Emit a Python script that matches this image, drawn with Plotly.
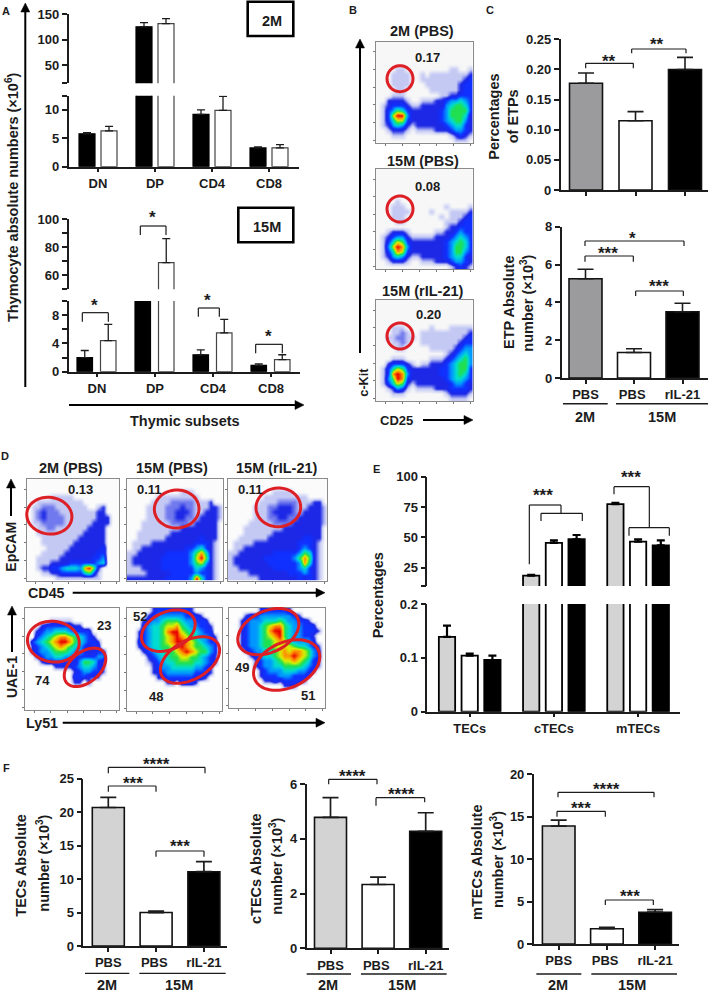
import math
import plotly.graph_objects as go

W, H = 709, 996
FONT = "Liberation Sans"
INK = "#1c1c1c"
GREY_C = "#9b9b9d"
GREY_L = "#d3d3d3"
RED = "#dd1f26"

# ---------- Panel A ----------
A_CATS = ["DN", "DP", "CD4", "CD8"]
A2_BLACK = [5.8, 125, 9.2, 3.3]
A2_BLACK_TOP = [6.0, 133, 10.0, 3.5]
A2_WHITE = [6.3, 131, 9.9, 3.3]
A2_WHITE_TOP = [7.1, 141, 12.4, 3.9]
A15_BLACK = [2.0, 40, 2.4, 0.9]
A15_BLACK_TOP = [3.0, 40, 3.1, 1.1]
A15_WHITE = [4.4, 69, 5.5, 1.7]
A15_WHITE_TOP = [6.7, 86, 7.4, 2.4]

# ---------- Panel C ----------
C_CATS = ["PBS", "PBS ", "rIL-21"]
C_PCT = [0.177, 0.115, 0.200]
C_PCT_TOP = [0.194, 0.130, 0.220]
C_ABS = [5.25, 1.35, 3.5]
C_ABS_TOP = [5.75, 1.55, 3.95]

# ---------- Panel E ----------
E_CATS = ["TECs", "cTECs", "mTECs"]
E_GREY = [0.139, 18.5, 77.5]
E_GREY_TOP = [0.160, 19.2, 78.5]
E_WHITE = [0.104, 45.5, 46.5]
E_WHITE_TOP = [0.108, 47.5, 48.5]
E_BLACK = [0.096, 48.5, 43.5]
E_BLACK_TOP = [0.104, 52.0, 47.5]

# ---------- Panel F ----------
F1 = [20.7, 5.0, 11.1]
F1_TOP = [22.2, 5.2, 12.6]
F2 = [4.78, 2.33, 4.27]
F2_TOP = [5.5, 2.6, 4.95]
F3 = [13.9, 1.8, 3.75]
F3_TOP = [14.6, 1.95, 4.05]

# ---------- Flow plots: density level 0-9 ('a' = 1.5) ----------
B1 = ["00000000000000000000", "00000000000000000000", "00000000000000000000", "00000000000000000000",
      "00000000000000000000", "00001100000000011001", "00011110010111111112", "00011110011111111123",
      "00011110001111111233", "00001100000111111233", "00011100000001122333", "00222210011122344543",
      "01233321122222456653", "01346532222223466663", "01379942222223466652", "01357732222223456642",
      "01245421222222345532", "00122210111122234432", "00011100000000012321", "00000000000000001110"]
B2 = ["00000000000000000000", "00000000000000000000", "00000000000000000000", "00000000000000000000",
      "00000000000000000000", "00000000000000000000", "00001000000000000000", "00011100000000100001",
      "00011110000100011112", "00011100000001011123", "00001100000000111233", "00000000000000122333",
      "00122210000011223433", "01234421111122234543", "01357632222222345653", "01479842222222346653",
      "01358732222222346643", "01245421122222345532", "00122210011122234432", "00000000000000012321"]
B3 = ["00000000000000000000", "00000000000000000000", "00000000000000000000", "00000000000000000000",
      "00000000000000000000", "00011100000100011111", "00011a10011111111112", "0011aa11011111111123",
      "00011a10011111111233", "00001100000111112344", "00000000000000123454", "00011100000111234564",
      "00233321011222345664", "01357632222223345663", "01389842222223345653", "01469832222222345543",
      "01357621222222234432", "00124310111122233332", "00011100000000122221", "00000000000000011110"]
D1 = ["00000000000000000000", "00000000000000000000", "00000000000000000000", "00000111110000000000",
      "00111111111100000000", "011aaa11111110012000", "01a2aaa1111111122000", "01a2aaaa111111122200",
      "011aaaaa111111222200", "0011aa11111112222000", "00111111111122222000", "00011111111222222000",
      "00011111112222222000", "00001111122222223000", "00011111222222233000", "00111112222222334000",
      "00111222233333345000", "00122334555489620000", "00011223333356310000", "00000011111111110000"]
D2 = ["00000000000000000000", "00000000000000000000", "00000000000111000000", "00000011111111100000",
      "000001111aaaaa111200", "00001111aaa2aa111221", "00001111aa222a112221", "00001111aa22aa122221",
      "000111111aaaa1222220", "00011111111222222220", "00111111122222222220", "00111111222222232220",
      "01111222222222333210", "01122222222233453210", "11222222333334685210", "12222223333334796210",
      "12222223333334674210", "11122223333333543210", "11112222233333433210", "22222222333334953210"]
D3 = ["00000000000000000000", "00000000000000000000", "00000000011110000000", "00000001111111110000",
      "0000001111aaaa111220", "00000111aa222a112221", "00000111a2222a122221", "00000111aa22aa222221",
      "000011111aaaa2222221", "00011111111222222220", "00011111122222222220", "00111111222222233220",
      "01111222222222333210", "01122222222222343210", "11222222233333465210", "12222223333334686210",
      "12222222333333485210", "11222222233333453210", "11112222222233343210", "11111122222222323210"]
D4 = ["00000000000000000000", "00000000000000000000", "00000111110000000000", "00023333332200000000",
      "00234455543333000000", "00345678876543200000", "03456789986543320000", "02345678765432330000",
      "02344566654432233000", "00234455443333344000", "00023333332466532000", "00000022223455432000",
      "00000000002344332000", "00000000003332220000", "00000000002202000000", "00000000000000000000",
      "00000000000000000000", "00000000000000000000", "00000000000000000000", "00000000000000000000"]
D5 = ["00000233333332000000", "00002344444433320000", "00023445666544333000", "00034556778654433200",
      "00234556899765543300", "00234556789876544320", "00334556789987654330", "00234556678987665430",
      "00023455667898766430", "00002345566776654320", "00001234556666554320", "00000234455555443200",
      "00000223444444333200", "00000022333333232000", "00000000220333200000", "00000000000000000000",
      "00000000000000000000", "00000000000000000000", "00000000000000000000", "00000000000000000000"]
D6 = ["00000023333320000000", "00023344444443200000", "00234445556544332000", "00234456788654433300",
      "00234456899654433320", "00234456789654433200", "00234456678754444300", "00234456677776554320",
      "00023445567878876430", "00002345567889876430", "00000234456778765320", "00000234455666654320",
      "00000023444555443200", "00000023334443332000", "00000002232333320000", "00000000000222000000",
      "00000000000000000000", "00000000000000000000", "00000000000000000000", "00000000000000000000"]

LEVELS = ["#c4c9f4", "#1c28e6", "#1030ff", "#0098ff", "#00dcd0", "#20e050", "#d8f000", "#ff9000", "#e80000"]

fig = go.Figure()
axis_no = [1]
layout_axes = {}
shapes = []
annos = []


def new_axes(l, r, t, b, xr, yr, xa=None, ya=None):
    axis_no[0] += 1
    n = axis_no[0]
    xd = dict(domain=[l / W, r / W], anchor=f"y{n}", range=xr, showgrid=False, zeroline=False,
              showline=False, ticks="", showticklabels=False, fixedrange=True)
    yd = dict(domain=[1 - b / H, 1 - t / H], anchor=f"x{n}", range=yr, showgrid=False, zeroline=False,
              showline=False, ticks="", showticklabels=False, fixedrange=True)
    xd.update(xa or {})
    yd.update(ya or {})
    layout_axes[f"xaxis{n}"] = xd
    layout_axes[f"yaxis{n}"] = yd
    return f"x{n}", f"y{n}"


def yaxis_style(vals, labels, minor=None, size=13, tw=1.5, tl=5):
    d = dict(showline=True, linecolor=INK, linewidth=tw, ticks="outside", ticklen=tl, tickwidth=tw,
             tickcolor=INK, tickvals=vals, ticktext=labels, showticklabels=True,
             tickfont=dict(family=FONT, size=size, color=INK, weight="bold"))
    if minor:
        d["minor"] = dict(tickvals=minor, ticks="outside", ticklen=tl, tickwidth=tw, tickcolor=INK, showgrid=False)
    return d


def xaxis_style(cats, size=13, tw=1.5, tl=4, standoff=0, show=True):
    return dict(type="category", categoryarray=cats, categoryorder="array", showline=True, linecolor=INK,
                linewidth=tw, ticks="outside", ticklen=tl, tickwidth=tw, tickcolor=INK,
                showticklabels=show, ticklabelstandoff=standoff,
                tickfont=dict(family=FONT, size=size, color=INK, weight="bold"))


def xr(l, r, c0, p):
    return [(l - c0) / p, (r - c0) / p]


def add_bars(xa, ya, cats, vals, tops, fill, line, off, wid, lw=1.2, thick=1.3, cap=4, ecolor=INK, floor=None):
    ups = [t - v if floor is None or v >= floor else 0 for t, v in zip(tops, vals)]
    fig.add_trace(go.Bar(
        x=cats, y=vals, xaxis=xa, yaxis=ya, width=wid, offset=off,
        marker=dict(color=fill, line=dict(color=line, width=lw)),
        error_y=dict(type="data", symmetric=False, array=ups,
                     arrayminus=[0] * len(vals), thickness=thick, width=cap, color=ecolor),
        showlegend=False, hoverinfo="skip", cliponaxis=True))


def Z(ox=0, oy=0):
    return lambda x, y: (ox + x / 3, oy + y / 3)


def seg(x0, y0, x1, y1, w=1.3, c=INK):
    shapes.append(dict(type="line", xref="paper", yref="paper", x0=x0 / W, x1=x1 / W, y0=1 - y0 / H, y1=1 - y1 / H,
                       line=dict(color=c, width=w)))


def bracket(z, x0, x1, y, yl, yr, w=1.2):
    a, b = z(x0, y), z(x1, y)
    c, d = z(x0, yl), z(x1, yr)
    seg(a[0], a[1], b[0], b[1], w)
    seg(c[0], c[1], a[0], a[1], w)
    seg(d[0], d[1], b[0], b[1], w)


def text(x, y, s, size=13, angle=0, weight="bold", color=INK):
    annos.append(dict(xref="paper", yref="paper", x=x / W, y=1 - y / H, text=s, showarrow=False,
                      xanchor="center", yanchor="middle", textangle=angle,
                      font=dict(family=FONT, size=size, color=color, weight=weight)))


def ztext(z, x, y, s, size=13, angle=0):
    p = z(x, y)
    text(p[0], p[1], s, size, angle)


def stars(z, x, y, s, size=17):
    p = z(x, y)
    text(p[0], p[1] + size * 0.2, s, size)


def arrow(x0, y0, x1, y1, w=2, hl=9, hw=4.5):
    d = math.hypot(x1 - x0, y1 - y0)
    ux, uy = (x1 - x0) / d, (y1 - y0) / d
    bx, by = x1 - ux * hl, y1 - uy * hl
    seg(x0, y0, bx, by, w, "#000000")
    pts = [(x1, y1), (bx - uy * hw, by + ux * hw), (bx + uy * hw, by - ux * hw)]
    path = "M" + " L".join(f"{a / W:.5f},{1 - b / H:.5f}" for a, b in pts) + " Z"
    shapes.append(dict(type="path", xref="paper", yref="paper", path=path, fillcolor="#000000",
                       line=dict(color="#000000", width=0.5)))


def box(x0, y0, x1, y1, w=2.6):
    shapes.append(dict(type="rect", xref="paper", yref="paper", x0=x0 / W, x1=x1 / W, y0=1 - y0 / H, y1=1 - y1 / H,
                       line=dict(color="#000000", width=w)))


def ellipse(z, cx, cy, rx, ry, rot, w=3):
    pts = []
    c, s = math.cos(math.radians(rot)), math.sin(math.radians(rot))
    for k in range(60):
        t = 2 * math.pi * k / 60
        ex, ey = rx * math.cos(t), ry * math.sin(t)
        px, py = z(cx + ex * c - ey * s, cy + ex * s + ey * c)
        pts.append(f"{px / W:.5f},{1 - py / H:.5f}")
    shapes.append(dict(type="path", xref="paper", yref="paper", path="M" + " L".join(pts) + " Z",
                       line=dict(color=RED, width=w)))


def flow(rows, l, r, t, b, bg):
    z = [[1.5 if ch == "a" else int(ch) for ch in row] for row in rows]
    steps = [[0, bg]] + [[(i + 1) / 9, c] for i, c in enumerate(LEVELS)]
    tv = [1.5, 5, 8.5, 12, 15.5, 19]
    xa, ya = new_axes(l, r, t, b, [-0.5, 19.5], [19.5, -0.5],
                      dict(showline=True, mirror=True, linecolor="#8a8a8a", linewidth=1, ticks="outside", ticklen=2,
                           tickwidth=1, tickcolor="#777777", tickvals=tv),
                      dict(showline=True, mirror=True, linecolor="#8a8a8a", linewidth=1, ticks="outside", ticklen=2,
                           tickwidth=1, tickcolor="#777777", tickvals=tv))
    fig.add_trace(go.Heatmap(z=z, xaxis=xa, yaxis=ya, zmin=0, zmax=9, zsmooth="best", colorscale=steps,
                             showscale=False, hoverinfo="skip"))


# ======== Panel A ========
text(6, 11, "A", 11)
za = Z(0, 0)
xrt = xr(68.5, 299, 98, 57)
xa, ya = new_axes(68.5, 299, 14, 83.3, xrt, [14.1, 150],
                  dict(type="category", categoryarray=A_CATS, categoryorder="array"),
                  yaxis_style([150, 100, 50], ["150", "100", "50"], minor=[14.1]))
for vals, tops, fill, o in [(A2_BLACK, A2_BLACK_TOP, "#000000", -19 / 57), (A2_WHITE, A2_WHITE_TOP, "#ffffff", 3 / 57)]:
    add_bars(xa, ya, A_CATS, vals, tops, fill, "#000000" if fill == "#000000" else "#444444", o, 16 / 57, cap=4, floor=14.1)
xa, ya = new_axes(68.5, 299, 95.7, 166.7, xrt, [0, 12.5],
                  xaxis_style(A_CATS),
                  yaxis_style([0, 5, 10], ["0", "5", "10"], minor=[12.5]))
for vals, tops, fill, o in [(A2_BLACK, A2_BLACK_TOP, "#000000", -19 / 57), (A2_WHITE, A2_WHITE_TOP, "#ffffff", 3 / 57)]:
    add_bars(xa, ya, A_CATS, vals, tops, fill, "#000000" if fill == "#000000" else "#444444", o, 16 / 57, cap=4)

xrb = xr(68.5, 300, 97, 58)
xa, ya = new_axes(68.5, 300, 219, 289.3, xrb, [50, 100],
                  dict(type="category", categoryarray=A_CATS, categoryorder="array"),
                  yaxis_style([100, 80, 60], ["100", "80", "60"], minor=[90, 70, 50]))
for vals, tops, fill, o in [(A15_BLACK, A15_BLACK_TOP, "#000000", -20 / 58), (A15_WHITE, A15_WHITE_TOP, "#ffffff", 3.5 / 58)]:
    add_bars(xa, ya, A_CATS, vals, tops, fill, "#000000" if fill == "#000000" else "#444444", o, 15.5 / 58, cap=4, floor=50)
xa, ya = new_axes(68.5, 300, 301, 371.7, xrb, [0, 10],
                  xaxis_style(A_CATS),
                  yaxis_style([0, 4, 8], ["0", "4", "8"], minor=[2, 6, 10]))
for vals, tops, fill, o in [(A15_BLACK, A15_BLACK_TOP, "#000000", -20 / 58), (A15_WHITE, A15_WHITE_TOP, "#ffffff", 3.5 / 58)]:
    add_bars(xa, ya, A_CATS, vals, tops, fill, "#000000" if fill == "#000000" else "#444444", o, 15.5 / 58, cap=4)

text(12, 197, "Thymocyte absolute numbers (×10<sup>6</sup>)", 14.5, -90)
arrow(25.3, 387, 25.3, 3)
arrow(69, 405, 304, 405)
text(185, 421, "Thymic subsets", 14.5)
box(247.7, 1.7, 293.3, 36)
text(271.7, 20.7, "2M", 14.5)
box(238.3, 207.7, 293.3, 242.3)
text(267, 226.7, "15M", 14.5)
bracket(za, 247, 325, 938, 965, 965)
stars(za, 283, 905, "*")
bracket(za, 421, 498, 678, 705, 705)
stars(za, 457, 643, "*")
bracket(za, 595, 658, 924, 950, 950)
stars(za, 623, 892, "*")
bracket(za, 767, 847, 1033, 1060, 1060)
stars(za, 805, 1000, "*")

# ======== Panel B ========
zb = Z(340, 0)
ztext(zb, 38, 30, "B", 11)
for rows, t, b in [(B1, 41.7, 142.7), (B2, 169, 269.3), (B3, 300, 401)]:
    flow(rows, 375.7, 472.7, t, b, "#f7f7f7")
ztext(zb, 247, 92, "2M (PBS)", 14.5)
ztext(zb, 248, 482, "15M (PBS)", 14.5)
ztext(zb, 248, 873, "15M (rIL-21)", 14.5)
ztext(zb, 262, 173, "0.17", 13)
ztext(zb, 264, 558, "0.08", 13)
ztext(zb, 265, 943, "0.20", 13)
ellipse(zb, 180, 236, 39, 39, 0)
ellipse(zb, 180, 627, 39, 39, 0)
ellipse(zb, 180, 1008, 39, 39, 0)
arrow(360, 353, 360, 39)
ztext(zb, 72, 1148, "c-Kit", 12.7, -90)
ztext(zb, 170, 1260, "CD25", 13)
arrow(423, 420, 473, 420)

# ======== Panel C ========
ztext(zb, 450, 30, "C", 11)
xa, ya = new_axes(560.7, 708.3, 39.3, 190, xr(560.7, 708.3, 586, 49.5), [0, 0.25],
                  xaxis_style(C_CATS, show=False),
                  yaxis_style([0, 0.05, 0.10, 0.15, 0.20, 0.25], ["0", "0.05", "0.10", "0.15", "0.20", "0.25"]))
add_bars(xa, ya, C_CATS, C_PCT, C_PCT_TOP, [GREY_C, "#ffffff", "#000000"], "#111111", -16.5 / 49.5, 33 / 49.5,
         lw=1.6, thick=1.6, cap=8)
xa, ya = new_axes(561.7, 708, 226.7, 378, xr(561.7, 708, 585.5, 48.5), [0, 8],
                  xaxis_style(C_CATS),
                  yaxis_style([0, 2, 4, 6, 8], ["0", "2", "4", "6", "8"]))
add_bars(xa, ya, C_CATS, C_ABS, C_ABS_TOP, [GREY_C, "#ffffff", "#000000"], "#111111", -16.5 / 48.5, 33 / 48.5,
         lw=1.6, thick=1.6, cap=8)
ztext(zb, 462, 350, "Percentages", 14.5, -90)
ztext(zb, 518, 350, "of ETPs", 14.5, -90)
ztext(zb, 505, 908, "ETP Absolute", 14.5, -90)
ztext(zb, 562, 910, "number (×10<sup>3</sup>)", 14.5, -90)
bracket(zb, 737, 880, 190, 205, 205)
stars(zb, 808, 175, "**")
bracket(zb, 875, 1038, 147, 160, 160)
stars(zb, 952, 123, "**")
bracket(zb, 735, 1032, 723, 738, 738)
stars(zb, 878, 706, "*")
bracket(zb, 735, 880, 768, 785, 785)
stars(zb, 805, 750, "***")
bracket(zb, 887, 1030, 873, 888, 888)
stars(zb, 958, 848, "***")
seg(563, 403.7, 607.7, 403.7, 1.4)
seg(616, 403.7, 708, 403.7, 1.4)
ztext(zb, 736, 1250, "2M", 14.5)
ztext(zb, 967, 1250, "15M", 14.5)

# ======== Panel D ========
zd = Z(0, 440)
ztext(zd, 15, 48, "D", 11)
ztext(zd, 214, 85, "2M (PBS)", 14.5)
ztext(zd, 517, 85, "15M (PBS)", 14.5)
ztext(zd, 830, 85, "15M (rIL-21)", 14.5)
flow(D1, 26.7, 119.3, 479.3, 580.7, "#fbfbfb")
flow(D2, 126.7, 222.7, 479.3, 580.7, "#fbfbfb")
flow(D3, 228, 326.7, 479.3, 580.7, "#fbfbfb")
flow(D4, 25, 119.3, 608, 710, "#fdfdfd")
flow(D5, 126.7, 221.7, 608, 711, "#fdfdfd")
flow(D6, 229.3, 325, 608, 708, "#fdfdfd")
ellipse(zd, 148, 227, 68, 55, 8)
ellipse(zd, 530, 207, 67, 57, -3)
ellipse(zd, 835, 202, 67, 58, -3)
ellipse(zd, 160, 605, 78, 61, 8)
ellipse(zd, 255, 682, 72, 45, -40)
ellipse(zd, 505, 572, 85, 56, -25)
ellipse(zd, 570, 660, 97, 58, -30)
ellipse(zd, 805, 575, 97, 62, -25)
ellipse(zd, 860, 675, 105, 68, -25)
ztext(zd, 240, 147, "0.13", 13)
ztext(zd, 447, 147, "0.11", 13)
ztext(zd, 752, 147, "0.11", 13)
ztext(zd, 313, 555, "23", 13)
ztext(zd, 128, 720, "74", 13)
ztext(zd, 420, 530, "52", 13)
ztext(zd, 467, 770, "48", 13)
ztext(zd, 725, 682, "49", 13)
ztext(zd, 923, 767, "51", 13)
text(11, 546.7, "EpCAM", 14, -90)
arrow(11, 516, 11, 479)
text(46.7, 592.7, "CD45", 14.3)
arrow(72.7, 592.7, 325, 592.7)
text(12, 677, "UAE-1", 14, -90)
arrow(12, 652, 12, 606)
text(41.7, 722.7, "Ly51", 14.3)
arrow(62.7, 722.7, 325, 722.7)

# ======== Panel E ========
ze = Z(340, 450)
ztext(ze, 110, 58, "E", 11)
er = xr(427.3, 680, 469.7, 84.2)
e_off = [-(8.15 + 22.7) / 84.2, -8.15 / 84.2, (22.7 - 8.15) / 84.2]
series_e = [(E_GREY, E_GREY_TOP, GREY_L), (E_WHITE, E_WHITE_TOP, "#ffffff"), (E_BLACK, E_BLACK_TOP, "#000000")]
xa, ya = new_axes(427.3, 680, 476.7, 586, er, [10, 100],
                  dict(type="category", categoryarray=E_CATS, categoryorder="array"),
                  yaxis_style([100, 75, 50, 25], ["100", "75", "50", "25"], minor=[10]))
for (v, t, f), o in zip(series_e, e_off):
    add_bars(xa, ya, E_CATS, v, t, f, "#000000", o, 16.3 / 84.2, lw=1.8, thick=2.2, cap=4, ecolor="#000000", floor=10)
xa, ya = new_axes(427.3, 680, 604, 711.7, er, [0, 0.2],
                  xaxis_style(E_CATS, size=12.8),
                  yaxis_style([0, 0.1, 0.2], ["0", "0.1", "0.2"]))
for (v, t, f), o in zip(series_e, e_off):
    add_bars(xa, ya, E_CATS, v, t, f, "#000000", o, 16.3 / 84.2, lw=1.8, thick=2.2, cap=4, ecolor="#000000")
ztext(ze, 113, 437, "Percentages", 14.5, -90)
bracket(ze, 568, 663, 165, 343, 190)
bracket(ze, 603, 727, 190, 213, 213)
stars(ze, 610, 127, "***")
bracket(ze, 822, 928, 110, 133, 233)
bracket(ze, 867, 988, 233, 257, 257)
stars(ze, 873, 72, "***")

# ======== Panel F ========
zf1 = Z(0, 750)
zf2 = Z(236, 750)
zf3 = Z(473, 750)
ztext(zf1, 18, 55, "F", 11)
FILLS = [GREY_L, "#ffffff", "#000000"]

xa, ya = new_axes(83.3, 226.7, 778.7, 946, xr(83.3, 226.7, 108.3, 47.8), [0, 25],
                  xaxis_style(C_CATS),
                  yaxis_style([0, 5, 10, 15, 20, 25], ["0", "5", "10", "15", "20", "25"]))
add_bars(xa, ya, C_CATS, F1, F1_TOP, FILLS, "#111111", -16 / 47.8, 32 / 47.8, lw=1.6, thick=1.7, cap=8)
xa, ya = new_axes(306.7, 449.3, 784, 948.3, xr(306.7, 449.3, 330.5, 47.6), [0, 6],
                  xaxis_style(C_CATS),
                  yaxis_style([0, 2, 4, 6], ["0", "2", "4", "6"]))
add_bars(xa, ya, C_CATS, F2, F2_TOP, FILLS, "#111111", -16 / 47.6, 32 / 47.6, lw=1.6, thick=1.7, cap=8)
xa, ya = new_axes(533.7, 678.7, 774.3, 944, xr(533.7, 678.7, 558.7, 48.2), [0, 20],
                  xaxis_style(C_CATS),
                  yaxis_style([0, 5, 10, 15, 20], ["0", "5", "10", "15", "20"]))
add_bars(xa, ya, C_CATS, F3, F3_TOP, FILLS, "#111111", -16.3 / 48.2, 32.6 / 48.2, lw=1.6, thick=1.7, cap=8)

ztext(zf1, 62, 345, "TECs Absolute", 14.5, -90)
ztext(zf1, 130, 340, "number (×10<sup>3</sup>)", 14.5, -90)
ztext(zf2, 62, 355, "cTECs Absolute", 14.5, -90)
ztext(zf2, 120, 350, "number (×10<sup>3</sup>)", 14.5, -90)
text(477, 862, "mTECs Absolute", 14.5, -90)
text(497, 860, "number (×10<sup>3</sup>)", 14.5, -90)

for z, a0, a1, b0, b1, y, t0, t1 in [(zf1, 255, 388, 418, 677, 670, 320, 538),
                                     (zf2, 212, 345, 375, 632, 672, 277, 497),
                                     (zf3, 190, 325, 355, 612, 672, 255, 477)]:
    p, q = z(a0, y), z(a1, y)
    seg(p[0], p[1], q[0], q[1], 1.4)
    p, q = z(b0, y), z(b1, y)
    seg(p[0], p[1], q[0], q[1], 1.4)
    ztext(z, t0, 705, "2M", 14.5)
    ztext(z, t1, 705, "15M", 14.5)

bracket(zf1, 325, 615, 52, 70, 70)
stars(zf1, 470, 33, "****")
bracket(zf1, 325, 468, 108, 125, 125)
stars(zf1, 400, 91, "***")
bracket(zf1, 468, 612, 303, 320, 320)
stars(zf1, 540, 279, "***")
bracket(zf2, 278, 423, 88, 103, 103)
stars(zf2, 350, 70, "****")
bracket(zf2, 420, 566, 143, 167, 157)
stars(zf2, 497, 122, "****")
bracket(zf3, 255, 543, 127, 142, 142)
stars(zf3, 400, 108, "****")
bracket(zf3, 252, 397, 184, 200, 200)
stars(zf3, 325, 165, "***")
bracket(zf3, 397, 541, 450, 465, 465)
stars(zf3, 470, 430, "***")

fig.update_layout(width=W, height=H, margin=dict(l=0, r=0, t=0, b=0, pad=0, autoexpand=False), paper_bgcolor="white",
                  plot_bgcolor="rgba(0,0,0,0)", barmode="overlay", showlegend=False,
                  shapes=shapes, annotations=annos, **layout_axes)
fig.write_html("out.html", config={"displayModeBar": False},
               post_script="document.documentElement.style.margin='0';document.body.style.margin='0';document.body.style.padding='0';")
